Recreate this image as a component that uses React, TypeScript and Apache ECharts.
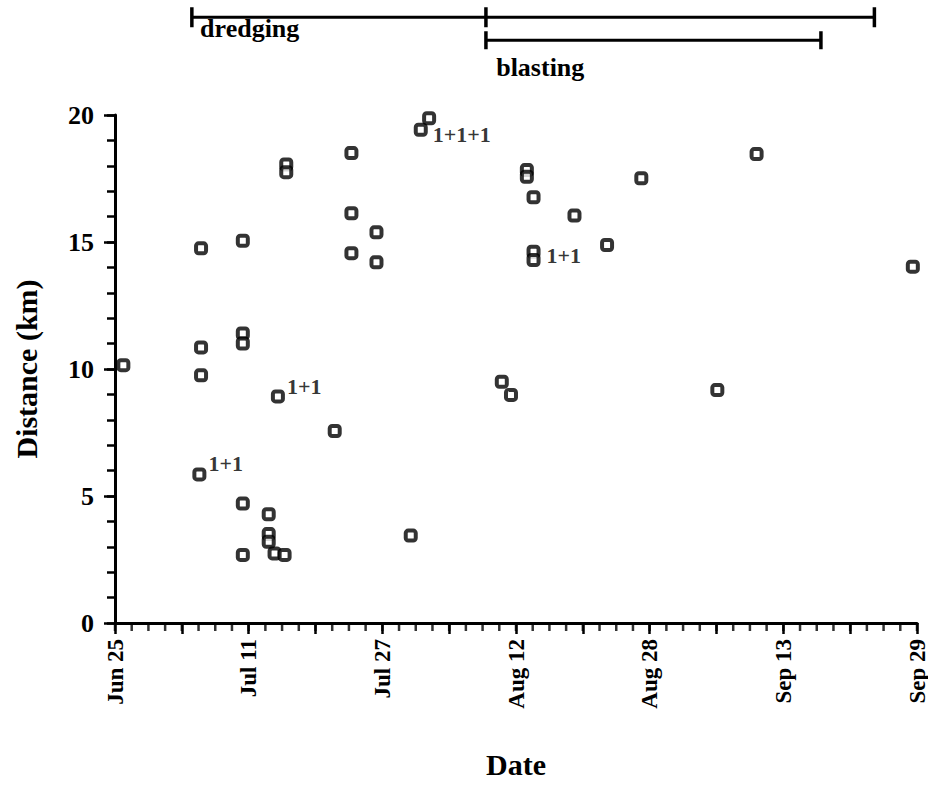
import React, { useEffect, useRef } from "react";
import * as echarts from "echarts";

// x = days after Jun 25, y = distance (km)
const startDate = "2000-06-25";
const tickLabelDays = [0, 16, 32, 48, 64, 80, 96];
const distanceTickLabels = [0, 5, 10, 15, 20];
const months = ["Jan", "Feb", "Mar", "Apr", "May", "Jun", "Jul", "Aug", "Sep", "Oct", "Nov", "Dec"];

const dayValues = [
  1.0, 10.3, 10.3, 10.3, 10.1, 15.3, 15.3, 15.3, 15.3, 15.3,
  18.4, 18.4, 18.4, 19.1, 20.3, 19.5, 20.5, 20.5, 26.3, 28.3,
  28.3, 28.3, 31.3, 31.3, 35.4, 36.6, 37.6, 46.3, 47.4, 49.3,
  49.3, 50.1, 50.1, 50.1, 55.0, 58.9, 63.0, 72.1, 76.8, 95.5,
];
const distanceKm = [
  10.15, 14.75, 10.85, 9.75, 5.85, 15.05, 11.4, 11.0, 4.7, 2.68,
  4.28, 3.5, 3.2, 2.74, 2.68, 8.92, 18.05, 17.75, 7.56, 18.5,
  16.13, 14.56, 15.38, 14.2, 3.44, 19.42, 19.87, 9.5, 8.98, 17.83,
  17.57, 16.76, 14.62, 14.29, 16.04, 14.88, 17.51, 9.17, 18.46, 14.03,
];
// index of point -> count annotation
const countLabels: Record<number, string> = {
  4: "1+1",
  15: "1+1",
  25: "1+1+1",
  33: "1+1",
};

// activity periods (days after Jun 25)
const dredgingDays = [9.2, 44.4, 90.9];
const blastingDays = [44.4, 84.5];

// minor x ticks every 2 days
const minorTickStep = 2;
const axisDays = 96;

const FONT = "Liberation Serif";

function dayToLabel(v: number): string {
  const base = Date.parse(startDate + "T00:00:00Z");
  const d = new Date(base + v * 86400000);
  return months[d.getUTCMonth()] + " " + d.getUTCDate();
}

export default function App() {
  const ref = useRef<HTMLDivElement>(null);
  useEffect(() => {
    if (!ref.current) return;
    const chart = echarts.init(ref.current, null, { renderer: "svg" });

    const labelPos: Record<number, any> = {
      4: { distance: 2, offset: [0, -11] },
      15: { distance: 2, offset: [0, -10] },
      25: { distance: 5, offset: [0, 5] },
      33: { distance: 6, offset: [0, -5] },
    };

    const points = dayValues.map((d, i) => {
      const item: any = { value: [d, distanceKm[i]] };
      if (countLabels[i]) {
        item.label = {
          show: true,
          formatter: countLabels[i],
          position: "right",
          distance: labelPos[i].distance,
          offset: labelPos[i].offset,
          color: "#000",
          fontFamily: FONT,
          fontWeight: "bold",
          fontSize: 22,
        };
      }
      return item;
    });

    const minorTicks: number[][] = [];
    for (let d = 0; d <= axisDays; d += minorTickStep) minorTicks.push([d, 0]);

    const annLabel = {
      color: "#000",
      fontFamily: FONT,
      fontWeight: "bold",
      fontSize: 26,
      align: "left",
      verticalAlign: "top",
    };

    const tickStyle = { color: "#000", width: 2.5 };

    chart.setOption({
      animation: false,
      backgroundColor: "#fff",
      grid: [
        { left: 115, right: 11, top: 115, bottom: 180, containLabel: false, outerBoundsMode: "none" },
        { left: 115, right: 11, top: 0, height: 115, containLabel: false, outerBoundsMode: "none" },
      ],
      xAxis: [
        {
          type: "value",
          gridIndex: 0,
          position: "bottom",
          min: 0,
          max: axisDays,
          interval: 8,
          name: "Date",
          nameLocation: "middle",
          nameGap: 126,
          nameTextStyle: { fontFamily: FONT, fontWeight: "bold", fontSize: 30, color: "#000" },
          axisLine: { show: true, onZero: false, lineStyle: { color: "#000", width: 3 } },
          axisTick: { show: true, length: 11, lineStyle: tickStyle },
          splitLine: { show: false },
          axisLabel: {
            rotate: 90,
            margin: 16,
            color: "#000",
            fontFamily: FONT,
            fontWeight: "bold",
            fontSize: 23,
            lineHeight: 18,
            formatter: (v: number) => (tickLabelDays.indexOf(v) >= 0 ? dayToLabel(v) : ""),
          },
        },
        { type: "value", gridIndex: 1, min: 0, max: axisDays, show: false },
      ],
      yAxis: [
        {
          type: "value",
          gridIndex: 0,
          position: "left",
          min: 0,
          max: 20,
          interval: 5,
          name: "Distance (km)",
          nameLocation: "middle",
          nameRotate: 90,
          nameGap: 74,
          nameTextStyle: { fontFamily: FONT, fontWeight: "bold", fontSize: 30, color: "#000" },
          axisLine: { show: true, onZero: false, lineStyle: { color: "#000", width: 3 } },
          axisTick: { show: true, length: 11, lineStyle: tickStyle },
          splitLine: { show: false },
          axisLabel: {
            margin: 21,
            color: "#000",
            fontFamily: FONT,
            fontWeight: "bold",
            fontSize: 26,
            formatter: (v: number) => (distanceTickLabels.indexOf(v) >= 0 ? String(v) : ""),
          },
        },
        {
          type: "value",
          gridIndex: 0,
          position: "left",
          offset: 0,
          min: 0,
          max: 20,
          interval: 1,
          axisLine: { show: false, onZero: false },
          axisTick: { show: true, interval: 0, length: 8, lineStyle: tickStyle },
          axisLabel: { show: true, interval: 0, fontSize: 1, formatter: () => "" },
          splitLine: { show: false },
        },
        { type: "value", gridIndex: 1, min: 0, max: 5, inverse: true, show: false },
      ],
      series: [
        {
          type: "scatter",
          xAxisIndex: 0,
          yAxisIndex: 0,
          symbol: "rect",
          symbolSize: [2.5, 8],
          symbolOffset: [0, 4],
          clip: false,
          silent: true,
          itemStyle: { color: "#000" },
          data: minorTicks,
        },
        {
          type: "scatter",
          xAxisIndex: 0,
          yAxisIndex: 0,
          symbol: "roundRect",
          symbolSize: 10,
          itemStyle: { color: "#fff", borderColor: "#000", borderWidth: 4 },
          data: points,
        },
        {
          type: "line",
          xAxisIndex: 1,
          yAxisIndex: 2,
          symbol: "rect",
          symbolSize: [3.5, 20],
          lineStyle: { color: "#000", width: 3 },
          itemStyle: { color: "#000" },
          data: dredgingDays.map((d, i) =>
            i === 0
              ? { value: [d, 0.75], label: { show: true, formatter: "dredging", position: [10, 8], ...annLabel } }
              : { value: [d, 0.75] }
          ),
        },
        {
          type: "line",
          xAxisIndex: 1,
          yAxisIndex: 2,
          symbol: "rect",
          symbolSize: [3.5, 18],
          lineStyle: { color: "#000", width: 3 },
          itemStyle: { color: "#000" },
          data: blastingDays.map((d, i) =>
            i === 0
              ? { value: [d, 1.75], label: { show: true, formatter: "blasting", position: [12, 23], ...annLabel } }
              : { value: [d, 1.75] }
          ),
        },
      ],
    });
    return () => chart.dispose();
  }, []);
  return <div ref={ref} style={{ position: "fixed", left: 0, top: 0, width: 928, height: 803 }} />;
}
